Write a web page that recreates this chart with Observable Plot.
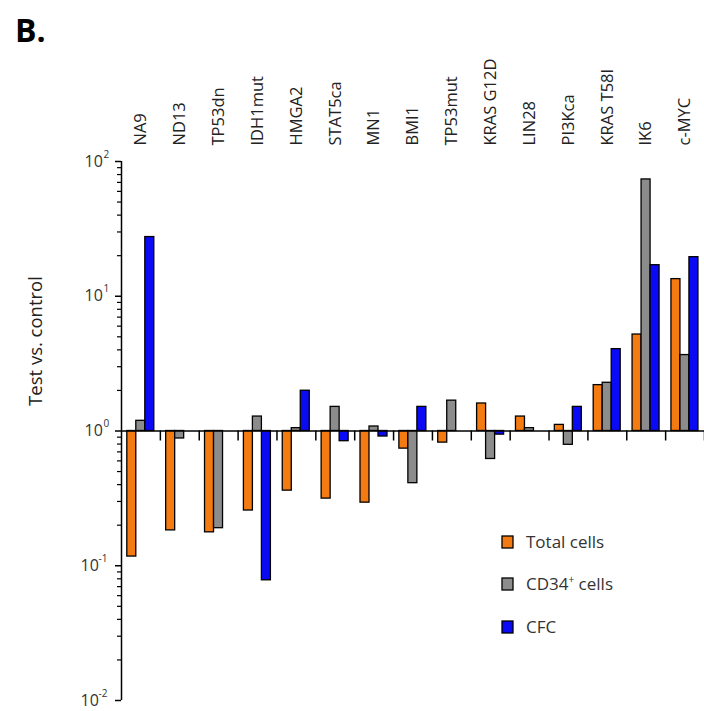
<!DOCTYPE html>
<html><head><meta charset="utf-8">
<script src="https://cdn.jsdelivr.net/npm/d3@7"></script>
<script src="https://cdn.jsdelivr.net/npm/@observablehq/plot@0.6"></script>
<style>body{margin:0;background:#fff}svg{display:block}</style>
</head><body><div id="chart"></div>
<script>
const categories = ["NA9","ND13","TP53dn","IDH1mut","HMGA2","STAT5ca","MN1","BMI1","TP53mut","KRAS G12D","LIN28","PI3Kca","KRAS T58I","IK6","c-MYC"];
const totalCells = [0.117,0.183,0.177,0.257,0.361,0.315,0.294,0.74,0.82,1.6,1.28,1.11,2.19,5.2,13.4];
const cd34Cells  = [1.19,0.88,0.19,1.28,1.05,1.51,1.08,0.41,1.68,0.62,1.05,0.79,2.28,73.6,3.66];
const cfc        = [27.5,null,null,0.078,1.99,0.84,0.91,1.51,null,0.94,null,1.51,4.05,17.0,19.5];
const seriesNames = ["Total cells","CD34+ cells","CFC"];
const seriesColors = ["#f47a12","#8c8c8c","#0a0af5"];
const majorTicks = [0.01,0.1,1,10,100];
const exponents = ["-2","-1","0","1","2"];

const seriesValues = [totalCells, cd34Cells, cfc];
const rows = [];
seriesValues.forEach((vals, j) => vals.forEach((v, i) => {
  if (v != null) rows.push({category: categories[i], series: seriesNames[j], value: v, j});
}));
const minorTicks = [];
[0.01,0.1,1,10].forEach(d => { for (let k = 2; k <= 9; k++) minorTicks.push(d * k); });

const W = 704, H = 711, ML = 121, MR = 0, MT = 161, MB = 11;
const B = (W - ML - MR) / categories.length;
const barW = 9.0, pad0 = 5.8;
const FONT = "'Open Sans', sans-serif";

const marks = [];
seriesNames.forEach((s, j) => {
  marks.push(Plot.barY(rows.filter(r => r.j === j), {
    x: "category", y1: 1, y2: "value",
    fill: seriesColors[j], stroke: "#000", strokeWidth: 1.3,
    insetLeft: pad0 + j * barW, insetRight: B - pad0 - (j + 1) * barW
  }));
});
const tickLabels = majorTicks.map((t, i) => ({t, e: exponents[i]}));
const pos = tickLabels.filter(d => !d.e.startsWith("-"));
const neg = tickLabels.filter(d => d.e.startsWith("-"));

const chart = Plot.plot({
  width: W, height: H,
  marginLeft: ML, marginRight: MR, marginTop: MT, marginBottom: MB,
  style: {fontFamily: FONT, fontSize: "15px", color: "#000", background: "#fff"},
  x: {type: "band", domain: categories, padding: 0, round: false},
  y: {type: "log", domain: [0.01, 100]},
  marks: [
    ...marks,
    Plot.ruleY([1], {stroke: "#000", strokeWidth: 1.5}),
    Plot.ruleX(categories, {x: d => d, dx: B / 2, y1: 1, y2: 1, insetBottom: -10, stroke: "#000", strokeWidth: 1.5}),
    Plot.ruleX([categories[0]], {x: d => d, dx: -B / 2, y1: 0.01, y2: 100, stroke: "#000", strokeWidth: 1.5}),
    Plot.axisY({ticks: majorTicks, tickSize: 6, tickFormat: () => "", label: null, strokeWidth: 1.5}),
    Plot.axisY({ticks: minorTicks, tickSize: 4, tickFormat: () => "", label: null, strokeWidth: 1.2}),
    Plot.text(pos, {y: "t", text: () => "10", frameAnchor: "left", textAnchor: "start", dx: -37, fontSize: 16, fill: "#333"}),
    Plot.text(pos, {y: "t", text: "e", frameAnchor: "left", textAnchor: "start", dx: -18, dy: -7, fontSize: 10, fill: "#333"}),
    Plot.text(neg, {y: "t", text: () => "10", frameAnchor: "left", textAnchor: "start", dx: -41, fontSize: 16, fill: "#333"}),
    Plot.text(neg, {y: "t", text: "e", frameAnchor: "left", textAnchor: "start", dx: -23, dy: -7, fontSize: 10, fill: "#333"}),
    Plot.axisX({anchor: "top", tickRotate: -90, tickSize: 0, tickPadding: 16, label: null, fontSize: 16.5, fill: "#222"})
  ]
});
document.getElementById("chart").appendChild(chart);

const svg = d3.select(chart);
svg.append("text").attr("x", 15).attr("y", 42).attr("font-family", FONT).attr("text-anchor", "start")
  .attr("font-weight", "bold").attr("font-size", 32).attr("fill", "#000").text("B.");
svg.append("text").attr("transform", "translate(42,341) rotate(-90)")
  .attr("text-anchor", "middle").attr("font-family", FONT).attr("font-size", 18.5)
  .attr("fill", "#222").text("Test vs. control");

const legendY = [542, 584, 627];
seriesNames.forEach((s, j) => {
  const g = svg.append("g").attr("transform", `translate(502,${legendY[j]})`);
  g.append("rect").attr("x", 0).attr("y", -6).attr("width", 11).attr("height", 12)
    .attr("fill", seriesColors[j]).attr("stroke", "#000").attr("stroke-width", 1.3);
  const t = g.append("text").attr("x", 24).attr("y", 6).attr("font-family", FONT).attr("text-anchor", "start")
    .attr("font-size", 17).attr("fill", "#333");
  if (s === "CD34+ cells") {
    t.append("tspan").text("CD34");
    t.append("tspan").attr("dy", -7).attr("font-size", 10).text("+");
    t.append("tspan").attr("dy", 7).text(" cells");
  } else t.text(s);
});
</script></body></html>
